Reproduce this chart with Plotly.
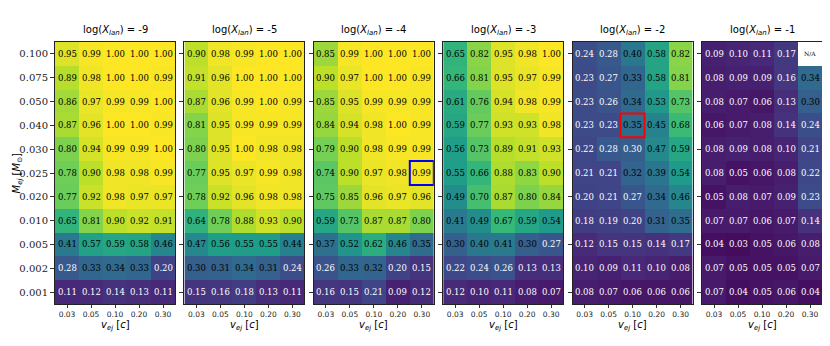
import plotly.graph_objs as go

# axes categories
v_ej = ['0.03', '0.05', '0.10', '0.20', '0.30']
m_ej = ['0.100', '0.075', '0.050', '0.040', '0.030', '0.025', '0.020',
        '0.010', '0.005', '0.002', '0.001']
log_x_lan = [-9, -5, -4, -3, -2, -1]

# fractions, rows from M_ej = 0.100 (top) down to 0.001
frac_m9 = [[0.95, 0.99, 1.00, 1.00, 1.00],
           [0.89, 0.98, 1.00, 1.00, 0.99],
           [0.86, 0.97, 0.99, 0.99, 1.00],
           [0.87, 0.96, 1.00, 1.00, 0.99],
           [0.80, 0.94, 0.99, 0.99, 1.00],
           [0.78, 0.90, 0.98, 0.98, 0.99],
           [0.77, 0.92, 0.98, 0.97, 0.97],
           [0.65, 0.81, 0.90, 0.92, 0.91],
           [0.41, 0.57, 0.59, 0.58, 0.46],
           [0.28, 0.33, 0.34, 0.33, 0.20],
           [0.11, 0.12, 0.14, 0.13, 0.11]]

frac_m5 = [[0.90, 0.98, 0.99, 1.00, 1.00],
           [0.91, 0.96, 1.00, 1.00, 1.00],
           [0.87, 0.96, 0.99, 1.00, 0.99],
           [0.81, 0.95, 0.99, 0.99, 0.99],
           [0.80, 0.95, 1.00, 0.98, 0.98],
           [0.77, 0.95, 0.97, 0.99, 0.98],
           [0.78, 0.92, 0.96, 0.98, 0.98],
           [0.64, 0.78, 0.88, 0.93, 0.90],
           [0.47, 0.56, 0.55, 0.55, 0.44],
           [0.30, 0.31, 0.34, 0.31, 0.24],
           [0.15, 0.16, 0.18, 0.13, 0.11]]

frac_m4 = [[0.85, 0.99, 1.00, 1.00, 1.00],
           [0.90, 0.97, 1.00, 1.00, 0.99],
           [0.85, 0.95, 0.99, 0.99, 0.99],
           [0.84, 0.94, 0.98, 1.00, 0.99],
           [0.79, 0.90, 0.98, 0.99, 0.99],
           [0.74, 0.90, 0.97, 0.98, 0.99],
           [0.75, 0.85, 0.96, 0.97, 0.96],
           [0.59, 0.73, 0.87, 0.87, 0.80],
           [0.37, 0.52, 0.62, 0.46, 0.35],
           [0.26, 0.33, 0.32, 0.20, 0.15],
           [0.16, 0.15, 0.21, 0.09, 0.12]]

frac_m3 = [[0.65, 0.82, 0.95, 0.98, 1.00],
           [0.66, 0.81, 0.95, 0.97, 0.99],
           [0.61, 0.76, 0.94, 0.98, 0.99],
           [0.59, 0.77, 0.93, 0.93, 0.98],
           [0.56, 0.73, 0.89, 0.91, 0.93],
           [0.55, 0.66, 0.88, 0.83, 0.90],
           [0.49, 0.70, 0.87, 0.80, 0.84],
           [0.41, 0.49, 0.67, 0.59, 0.54],
           [0.30, 0.40, 0.41, 0.30, 0.27],
           [0.22, 0.24, 0.26, 0.13, 0.13],
           [0.12, 0.10, 0.11, 0.08, 0.07]]

frac_m2 = [[0.24, 0.28, 0.40, 0.58, 0.82],
           [0.23, 0.27, 0.33, 0.58, 0.81],
           [0.23, 0.26, 0.34, 0.53, 0.73],
           [0.23, 0.23, 0.35, 0.45, 0.68],
           [0.22, 0.28, 0.298, 0.47, 0.59],
           [0.21, 0.21, 0.32, 0.39, 0.54],
           [0.20, 0.21, 0.27, 0.34, 0.46],
           [0.18, 0.19, 0.20, 0.31, 0.35],
           [0.12, 0.15, 0.15, 0.14, 0.17],
           [0.10, 0.09, 0.11, 0.10, 0.08],
           [0.08, 0.07, 0.06, 0.06, 0.06]]

frac_m1 = [[0.09, 0.10, 0.11, 0.17, None],
           [0.08, 0.09, 0.09, 0.16, 0.34],
           [0.08, 0.07, 0.06, 0.13, 0.30],
           [0.06, 0.07, 0.08, 0.14, 0.24],
           [0.08, 0.09, 0.08, 0.10, 0.21],
           [0.08, 0.05, 0.06, 0.08, 0.22],
           [0.05, 0.08, 0.07, 0.09, 0.23],
           [0.07, 0.07, 0.06, 0.07, 0.14],
           [0.04, 0.03, 0.05, 0.06, 0.08],
           [0.07, 0.05, 0.05, 0.05, 0.07],
           [0.07, 0.04, 0.05, 0.06, 0.04]]

panels = [frac_m9, frac_m5, frac_m4, frac_m3, frac_m2, frac_m1]

# highlighted cells: (panel index, v_ej, M_ej, colour)
highlights = [(2, '0.30', '0.025', 'blue'),
              (4, '0.10', '0.040', 'red')]

# page has an 8px body margin, so the figure is a bit smaller and shifted
off = 8
W, H = 830 - 2 * off, 346 - 2 * off
left0, step, pw = 55 - off, 129.4, 120
top, bottom = 42 - off, 304 - off

fig = go.Figure()
layout = dict(width=W, height=H, margin=dict(l=0, r=0, t=0, b=0),
              paper_bgcolor='white', plot_bgcolor='white', showlegend=False)
annotations = []
shapes = []

xs = list(range(len(v_ej)))
ys = list(range(len(m_ej)))

for k, z in enumerate(panels):
    n = '' if k == 0 else str(k + 1)
    x0 = (left0 + k * step) / W
    x1 = (left0 + k * step + pw) / W

    fig.add_trace(go.Heatmap(
        x=xs, y=ys, z=z, zmin=0, zmax=1, colorscale='Viridis',
        showscale=False, hoverongaps=False,
        xaxis='x' + n, yaxis='y' + n))

    layout['xaxis' + n] = dict(
        domain=[x0, x1], anchor='y' + n, range=[-0.5, 4.5],
        tickvals=xs, ticktext=v_ej, ticks='outside', ticklen=3,
        tickcolor='#333', tickfont=dict(family='DejaVu Sans', size=7.5, color='#222'),
        showline=True, mirror=True, linecolor='#222', linewidth=1,
        showgrid=False, zeroline=False)
    if k == 0:
        ytv, ytt, show = ys, m_ej, True
    else:
        ytv, ytt, show = ys[::2], [m_ej[i] for i in ys[::2]], False
    layout['yaxis' + n] = dict(
        domain=[1 - bottom / H, 1 - top / H], anchor='x' + n,
        range=[10.5, -0.5], tickvals=ytv, ticktext=ytt, showticklabels=show,
        ticks='outside', ticklen=4, tickcolor='#333',
        tickfont=dict(family='DejaVu Serif', size=10, color='#222'),
        showline=True, mirror=True, linecolor='#222', linewidth=1,
        showgrid=False, zeroline=False)

    # cell labels
    for i, row in enumerate(z):
        for j, v in enumerate(row):
            if v is None:
                txt, col, sz = 'N/A', 'black', 6
            else:
                txt, col, sz = '%.2f' % v, ('white' if v < 0.3 else 'black'), 8.5
            annotations.append(dict(
                x=j, y=i, xref='x' + n, yref='y' + n, text=txt, showarrow=False,
                font=dict(family='DejaVu Serif', size=sz, color=col)))

    # panel title
    annotations.append(dict(
        x=(x0 + x1) / 2, y=1 - (39 - off) / H, xref='paper', yref='paper',
        xanchor='center', yanchor='bottom', showarrow=False,
        text='log(<i>X</i><sub><i>lan</i></sub>) = %d' % log_x_lan[k],
        font=dict(family='DejaVu Sans', size=10, color='black')))
    # x axis title
    annotations.append(dict(
        x=(x0 + x1) / 2, y=1 - (325 - off) / H, xref='paper', yref='paper',
        xanchor='center', yanchor='middle', showarrow=False,
        text='<i>v</i><sub><i>ej</i></sub> [<i>c</i>]',
        font=dict(family='DejaVu Sans', size=10, color='black')))

for k, v, m, col in highlights:
    n = '' if k == 0 else str(k + 1)
    j = v_ej.index(v)
    i = m_ej.index(m)
    shapes.append(dict(type='rect', xref='x' + n, yref='y' + n,
                       x0=j - 0.5, x1=j + 0.5, y0=i - 0.5, y1=i + 0.5,
                       line=dict(color=col, width=2)))

# y axis title
annotations.append(dict(
    x=0, y=1 - (173 - off) / H, xref='paper', yref='paper',
    textangle=-90, xanchor='left', yanchor='middle', showarrow=False,
    text='<i>M</i><sub><i>ej</i></sub> [<i>M</i><sub>⊙</sub>]',
    font=dict(family='DejaVu Sans', size=10, color='black')))

layout['annotations'] = annotations
layout['shapes'] = shapes
fig.update_layout(**layout)

fig.write_html("out.html")
